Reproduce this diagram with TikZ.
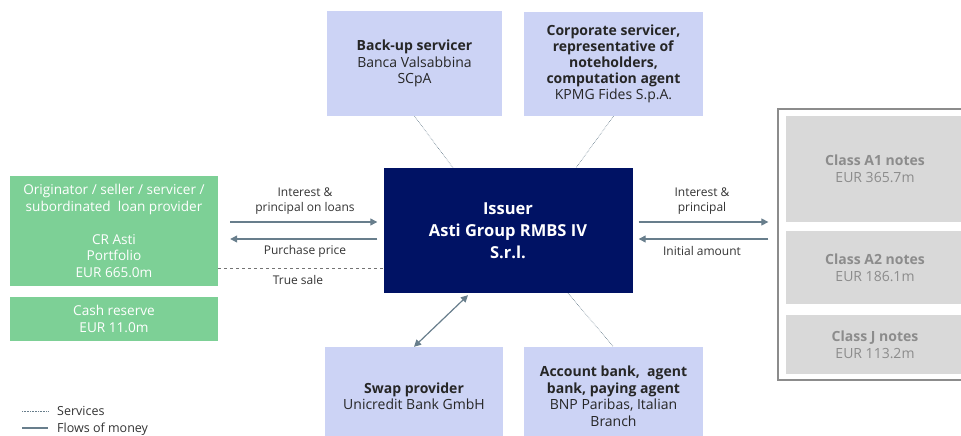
\documentclass[tikz,border=0pt]{standalone}
\usepackage{fontspec}
\setmainfont{Open Sans}
\usetikzlibrary{arrows.meta}

\definecolor{origgreen}{RGB}{125,208,150}
\definecolor{partyblue}{RGB}{204,211,245}
\definecolor{issuernavy}{RGB}{0,18,100}
\definecolor{notefill}{RGB}{217,217,217}
\definecolor{notetext}{RGB}{140,140,140}
\definecolor{flowcol}{RGB}{104,126,140}

\begin{document}
\begin{tikzpicture}[x=1pt, y=-1pt,
    every node/.style={font=\fontsize{13.6}{16.5}\selectfont, align=center, inner sep=0pt},
    greenbox/.style={fill=origgreen, text=white, minimum width=208pt},
    party/.style={fill=partyblue, text=black!85, font=\fontsize{14}{16.5}\selectfont},
    notebox/.style={fill=notefill, text=notetext, minimum width=178pt, font=\fontsize{14}{17}\selectfont},
    flow/.style={draw=flowcol, line width=1.2pt, -{Triangle[length=7pt,width=7pt]}},
    service/.style={draw=flowcol, densely dotted, line width=0.6pt},
    lbl/.style={font=\fontsize{12}{14.5}\selectfont, text=black!80}]

    \useasboundingbox (0,0) rectangle (961,436);

    % originator side
    \node[greenbox, minimum height=110pt] (orig) at (114,231)
        {Originator / seller / servicer /\\subordinated\ \ loan provider\\[16.5pt]CR Asti\\Portfolio\\EUR 665.0m};
    \node[greenbox, minimum height=44pt] (cash) at (114,319) {Cash reserve\\EUR 11.0m};

    % issuer
    \node[fill=issuernavy, text=white, minimum width=249pt, minimum height=125pt,
          font=\fontsize{16.5}{22}\selectfont\bfseries] (issuer) at (508,230.5)
        {Issuer\\Asti Group RMBS IV\\S.r.l.};

    % other parties
    \node[party, minimum width=175pt, minimum height=105pt] (backup) at (414.5,63.5)
        {\textbf{Back-up servicer}\\Banca Valsabbina\\SCpA};
    \node[party, minimum width=179pt, minimum height=104pt, font=\fontsize{14}{16}\selectfont] (corp) at (613.5,64)
        {\textbf{Corporate servicer,}\\\textbf{representative of}\\\textbf{noteholders,}\\\textbf{computation agent}\\KPMG Fides S.p.A.};
    \node[party, minimum width=178pt, minimum height=98pt] (swap) at (414,396)
        {\textbf{Swap provider}\\Unicredit Bank GmbH};
    \node[party, minimum width=179pt, minimum height=98pt] (acct) at (613.5,396)
        {\textbf{Account bank,\ \ agent}\\\textbf{bank, paying agent}\\BNP Paribas, Italian\\Branch};

    % notes
    \node[draw=black!45, line width=1.3pt, minimum width=184pt, minimum height=271pt] (notes) at (870,244.5) {};
    \node[notebox, minimum height=106pt] (a1) at (875,169) {\textbf{Class A1 notes}\\EUR 365.7m};
    \node[notebox, minimum height=73pt] (a2) at (875,267.5) {\textbf{Class A2 notes}\\EUR 186.1m};
    \node[notebox, minimum height=59pt] (cj) at (875,344.5) {\textbf{Class J notes}\\EUR 113.2m};

    % flows left
    \draw[flow] ([shift={(12,-9)}]orig.east) -- ([shift={(-6,-9)}]orig.east -| issuer.west);
    \draw[flow] ([shift={(-6,8)}]orig.east -| issuer.west) -- ([shift={(12,8)}]orig.east);
    \draw[black!55, dashed, line width=0.6pt] ([yshift=-37pt]orig.east) -- ([yshift=-37pt]orig.east -| issuer.west);
    \node[lbl] (intl) at (305,201) {Interest \&\\principal on loans};
    \node[lbl] (pp) at (305,251) {Purchase price};
    \node[lbl] (ts) at (298,280) {True sale};

    % flows right
    \draw[flow] ([shift={(6,-8.5)}]issuer.east) -- ([shift={(-9,-8.5)}]issuer.east -| notes.west);
    \draw[flow] ([shift={(-9,8.5)}]issuer.east -| notes.west) -- ([shift={(6,8.5)}]issuer.east);
    \node[lbl] (intr) at (702,201) {Interest \&\\principal};
    \node[lbl] (ia) at (702,251) {Initial amount};

    % services and swap
    \draw[service] (backup.south) -- ([xshift=-55pt]issuer.north);
    \draw[service] (corp.south) -- ([xshift=68pt]issuer.north);
    \draw[service] ([xshift=60pt]issuer.south) -- (acct.north);
    \draw[flow, {Triangle[length=7pt,width=7pt]}-{Triangle[length=7pt,width=7pt]}] ([xshift=-40pt,yshift=-2pt]issuer.south) -- (swap.north);

    % legend
    \draw[service] (22,411) -- (48,411);
    \draw[draw=flowcol, line width=1.2pt] (22,428) -- (48,428);
    \node[lbl, anchor=west, font=\fontsize{12.5}{15}\selectfont] (lsrv) at (57,411) {Services};
    \node[lbl, anchor=west, font=\fontsize{12.5}{15}\selectfont] (lflow) at (57,429) {Flows of money};
\end{tikzpicture}
\end{document}
